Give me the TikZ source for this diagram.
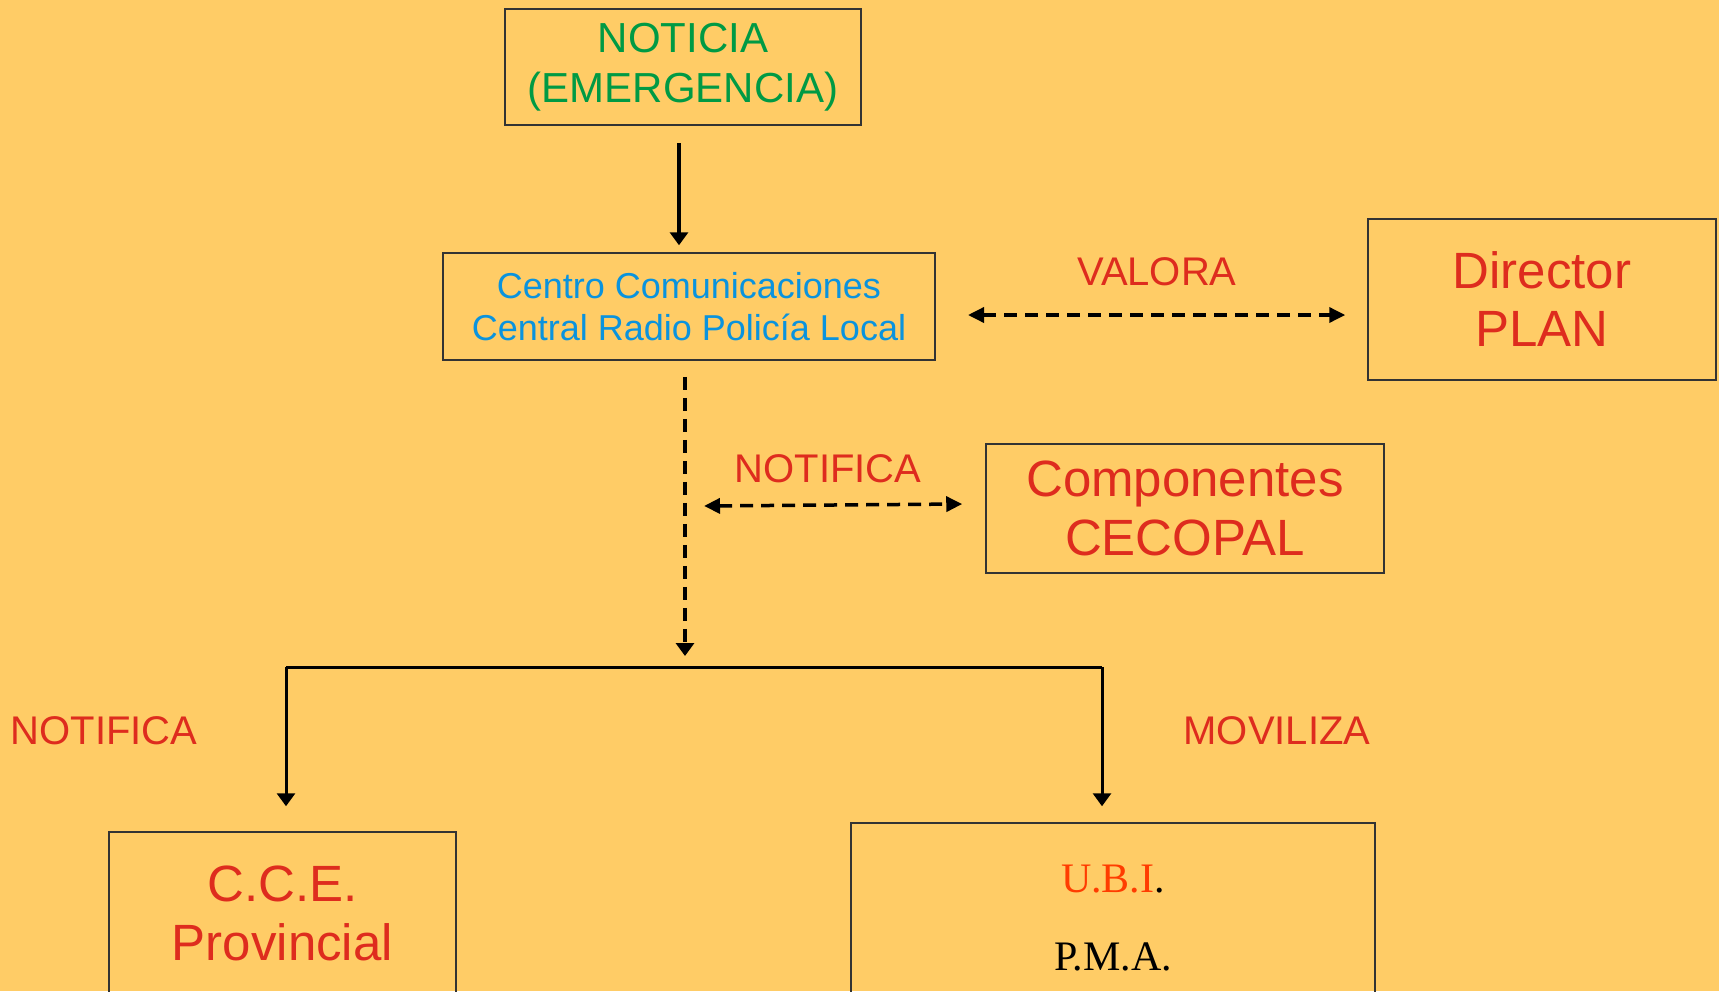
\documentclass[tikz,border=0pt]{standalone}
\usepackage{fontspec}
\setmainfont{Liberation Sans}
\newfontfamily\timesfont{Liberation Serif}
\usetikzlibrary{arrows.meta}
\definecolor{fondo}{RGB}{255,204,102}
\definecolor{verde}{RGB}{0,154,68}
\definecolor{azul}{RGB}{10,147,222}
\definecolor{rojo}{RGB}{222,44,30}
\definecolor{naranja}{RGB}{255,60,0}

\begin{document}
\begin{tikzpicture}[x=1pt,y=-1pt,
  caja/.style={draw=black!80,line width=1.5pt,rectangle,align=center,inner sep=0pt},
  rotulo/.style={text=rojo,font=\fontsize{40}{48}\selectfont,inner sep=0pt},
  flecha/.style={line width=3.5pt,-{Triangle[width=18pt,length=13pt]}},
  discont/.style={line width=3.5pt,dash pattern=on 13pt off 8pt},
  doble/.style={discont,{Triangle[width=15pt,length=16pt]}-{Triangle[width=15pt,length=16pt]}}]
\useasboundingbox (0,0) rectangle (1719,991);
\clip (0,0) rectangle (1719,991);
\fill[fondo] (0,0) rectangle (1719,991);

% Noticia
\node[caja,minimum width=356pt,minimum height=116pt,text=verde,font=\fontsize{42}{50}\selectfont] (noticia) at (683,67) {NOTICIA\\(EMERGENCIA)};

% Centro de comunicaciones
\node[caja,minimum width=492pt,minimum height=107pt,text=azul,font=\fontsize{36}{42}\selectfont] (centro) at (689,306.5) {Centro Comunicaciones\\Central Radio Policía Local};
\coordinate (a1) at (679,143);
\draw[flecha,shorten >=7pt] (a1) -- (a1 |- centro.north);

% Director
\node[caja,minimum width=348pt,minimum height=161pt,text=rojo,font=\fontsize{51}{58}\selectfont] (director) at (1542,299.5) {Director\\PLAN};
\node[rotulo] (valora) at (1157,272) {VALORA};
\coordinate (v1) at (968,315);
\draw[doble,shorten >=22pt] (v1) -- (v1 -| director.west);

% CECOPAL
\node[caja,minimum width=398pt,minimum height=129pt,text=rojo,font=\fontsize{51}{59}\selectfont] (compo) at (1185,508.5) {Componentes\\CECOPAL};
\node[rotulo] (notif1) at (828,469) {NOTIFICA};
\coordinate (n1) at (704,506);
\draw[doble] (n1) -- ([xshift=-23pt,yshift=4.5pt]compo.west);

% Reparto
\coordinate (split) at (685,667);
\coordinate (barL) at (286,667);
\coordinate (barR) at (1102,667);
\draw[discont,-{Triangle[width=18pt,length=13pt]},shorten >=11pt] ([yshift=-16pt]split |- centro.south) -- (split);
\draw[line width=3pt] (barL) -- (barR);

% C.C.E.
\node[caja,minimum width=347pt,minimum height=162pt,text=rojo,font=\fontsize{51}{59}\selectfont] (cce) at (282.5,913) {C.C.E.\\Provincial};
\node[rotulo] (notif2) at (104,731) {NOTIFICA};
\draw[flecha,line width=3pt,shorten >=25pt] (barL) -- (barL |- cce.north);

% U.B.I. / P.M.A.
\node[caja,minimum width=524pt,minimum height=190pt,text=black,font=\timesfont\fontsize{42}{78}\selectfont] (ubi) at (1113,918) {{\color{naranja}U.B.I}.\\P.M.A.};
\node[rotulo] (moviliza) at (1277,731) {MOVILIZA};
\draw[flecha,line width=3pt,shorten >=16pt] (barR) -- (barR |- ubi.north);
\end{tikzpicture}
\end{document}
